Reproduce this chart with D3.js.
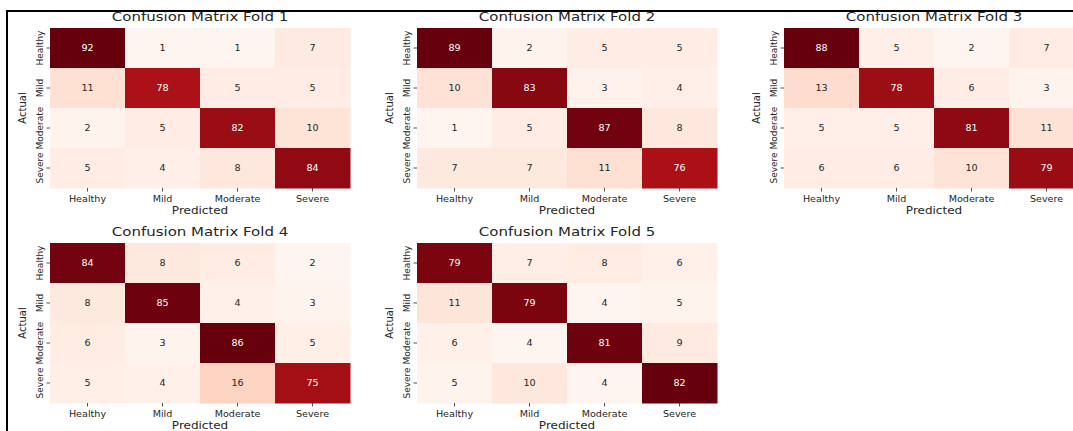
<!DOCTYPE html>
<html>
<head>
<meta charset="utf-8">
<script src="https://cdn.jsdelivr.net/npm/d3@7"></script>
<style>
  html, body { margin: 0; padding: 0; background: #fff; }
  svg { display: block; font-family: "DejaVu Sans", sans-serif; }
</style>
</head>
<body>
<svg id="chart" width="1073" height="431"></svg>
<script>
// Class labels shared by every fold
const classes = ["Healthy", "Mild", "Moderate", "Severe"];

// Confusion matrices, rows = actual class, columns = predicted class
const fold1 = [[92, 1, 1, 7], [11, 78, 5, 5], [2, 5, 82, 10], [5, 4, 8, 84]];
const fold2 = [[89, 2, 5, 5], [10, 83, 3, 4], [1, 5, 87, 8], [7, 7, 11, 76]];
const fold3 = [[88, 5, 2, 7], [13, 78, 6, 3], [5, 5, 81, 11], [6, 6, 10, 79]];
const fold4 = [[84, 8, 6, 2], [8, 85, 4, 3], [6, 3, 86, 5], [5, 4, 16, 75]];
const fold5 = [[79, 7, 8, 6], [11, 79, 4, 5], [6, 4, 81, 9], [5, 10, 4, 82]];

const folds = [fold1, fold2, fold3, fold4, fold5];
const foldTitles = ["Confusion Matrix Fold 1", "Confusion Matrix Fold 2", "Confusion Matrix Fold 3",
                    "Confusion Matrix Fold 4", "Confusion Matrix Fold 5"];

const svg = d3.select("#chart");
const textColor = "#262626";
const stretch = 1.2; // horizontal stretch applied to text

// Figure frame lines
svg.append("line").attr("x1", 7).attr("x2", 1073).attr("y1", 11).attr("y2", 11)
  .attr("stroke", "#000").attr("stroke-width", 2);
svg.append("line").attr("x1", 7).attr("x2", 7).attr("y1", 10).attr("y2", 431)
  .attr("stroke", "#000").attr("stroke-width", 2);

const panelW = 300, panelH = 160;
const colStep = 367, rowStep = 215;
const originX = 50, originY = 28;

function luminance(c) {
  const rgb = d3.rgb(c);
  const lin = [rgb.r, rgb.g, rgb.b].map(v => {
    v /= 255;
    return v <= 0.03928 ? v / 12.92 : Math.pow((v + 0.055) / 1.055, 2.4);
  });
  return 0.2126 * lin[0] + 0.7152 * lin[1] + 0.0722 * lin[2];
}

function stretchedText(g, x, y, str, size) {
  return g.append("text")
    .attr("transform", `translate(${x},${y}) scale(${stretch},1)`)
    .attr("text-anchor", "middle")
    .attr("font-size", size)
    .attr("fill", textColor)
    .text(str);
}

folds.forEach((m, i) => {
  const col = i % 3, row = Math.floor(i / 3);
  const g = svg.append("g")
    .attr("transform", `translate(${originX + col * colStep},${originY + row * rowStep})`);

  const x = d3.scaleBand().domain(classes).range([0, panelW]);
  const y = d3.scaleBand().domain(classes).range([0, panelH]);
  const flat = m.flat();
  const color = d3.scaleSequential(d3.interpolateReds).domain([d3.min(flat), d3.max(flat)]);

  const cells = [];
  m.forEach((r, ri) => r.forEach((v, ci) => cells.push({ actual: classes[ri], pred: classes[ci], v })));

  g.selectAll("rect.cell").data(cells).join("rect")
    .attr("class", "cell")
    .attr("x", d => x(d.pred))
    .attr("y", d => y(d.actual))
    .attr("width", x.bandwidth() + 0.5)
    .attr("height", y.bandwidth() + 0.5)
    .attr("fill", d => color(d.v));

  g.selectAll("text.val").data(cells).join("text")
    .attr("class", "val")
    .attr("transform", d => `translate(${x(d.pred) + x.bandwidth() / 2},${y(d.actual) + y.bandwidth() / 2 + 3}) scale(${stretch},1)`)
    .attr("text-anchor", "middle")
    .attr("font-size", 8)
    .attr("fill", d => luminance(color(d.v)) > 0.408 ? textColor : "#ffffff")
    .text(d => d.v);

  // Bottom axis
  const xAxis = g.append("g").attr("transform", `translate(0,${panelH})`)
    .call(d3.axisBottom(x).tickSize(3.5).tickPadding(2));
  xAxis.select(".domain").remove();
  xAxis.selectAll(".tick line").attr("stroke", textColor).attr("stroke-width", 0.8);
  xAxis.selectAll(".tick text").remove();
  classes.forEach(c => {
    stretchedText(g, x(c) + x.bandwidth() / 2, panelH + 14, c, 8);
  });

  // Left axis with vertical labels
  const yAxis = g.append("g").call(d3.axisLeft(y).tickSize(3.5));
  yAxis.select(".domain").remove();
  yAxis.selectAll(".tick line").attr("stroke", textColor).attr("stroke-width", 0.8);
  yAxis.selectAll(".tick text").remove();
  classes.forEach(c => {
    g.append("text")
      .attr("transform", `translate(-7,${y(c) + y.bandwidth() / 2}) rotate(-90)`)
      .attr("text-anchor", "middle")
      .attr("font-size", 9)
      .attr("fill", textColor)
      .text(c);
  });

  // Titles and axis labels
  stretchedText(g, panelW / 2, -7, foldTitles[i], 12.5);
  stretchedText(g, panelW / 2, panelH + 26, "Predicted", 10);
  g.append("text")
    .attr("transform", `translate(-24,${panelH / 2}) rotate(-90)`)
    .attr("text-anchor", "middle")
    .attr("font-size", 10)
    .attr("fill", textColor)
    .text("Actual");
});
</script>
</body>
</html>
